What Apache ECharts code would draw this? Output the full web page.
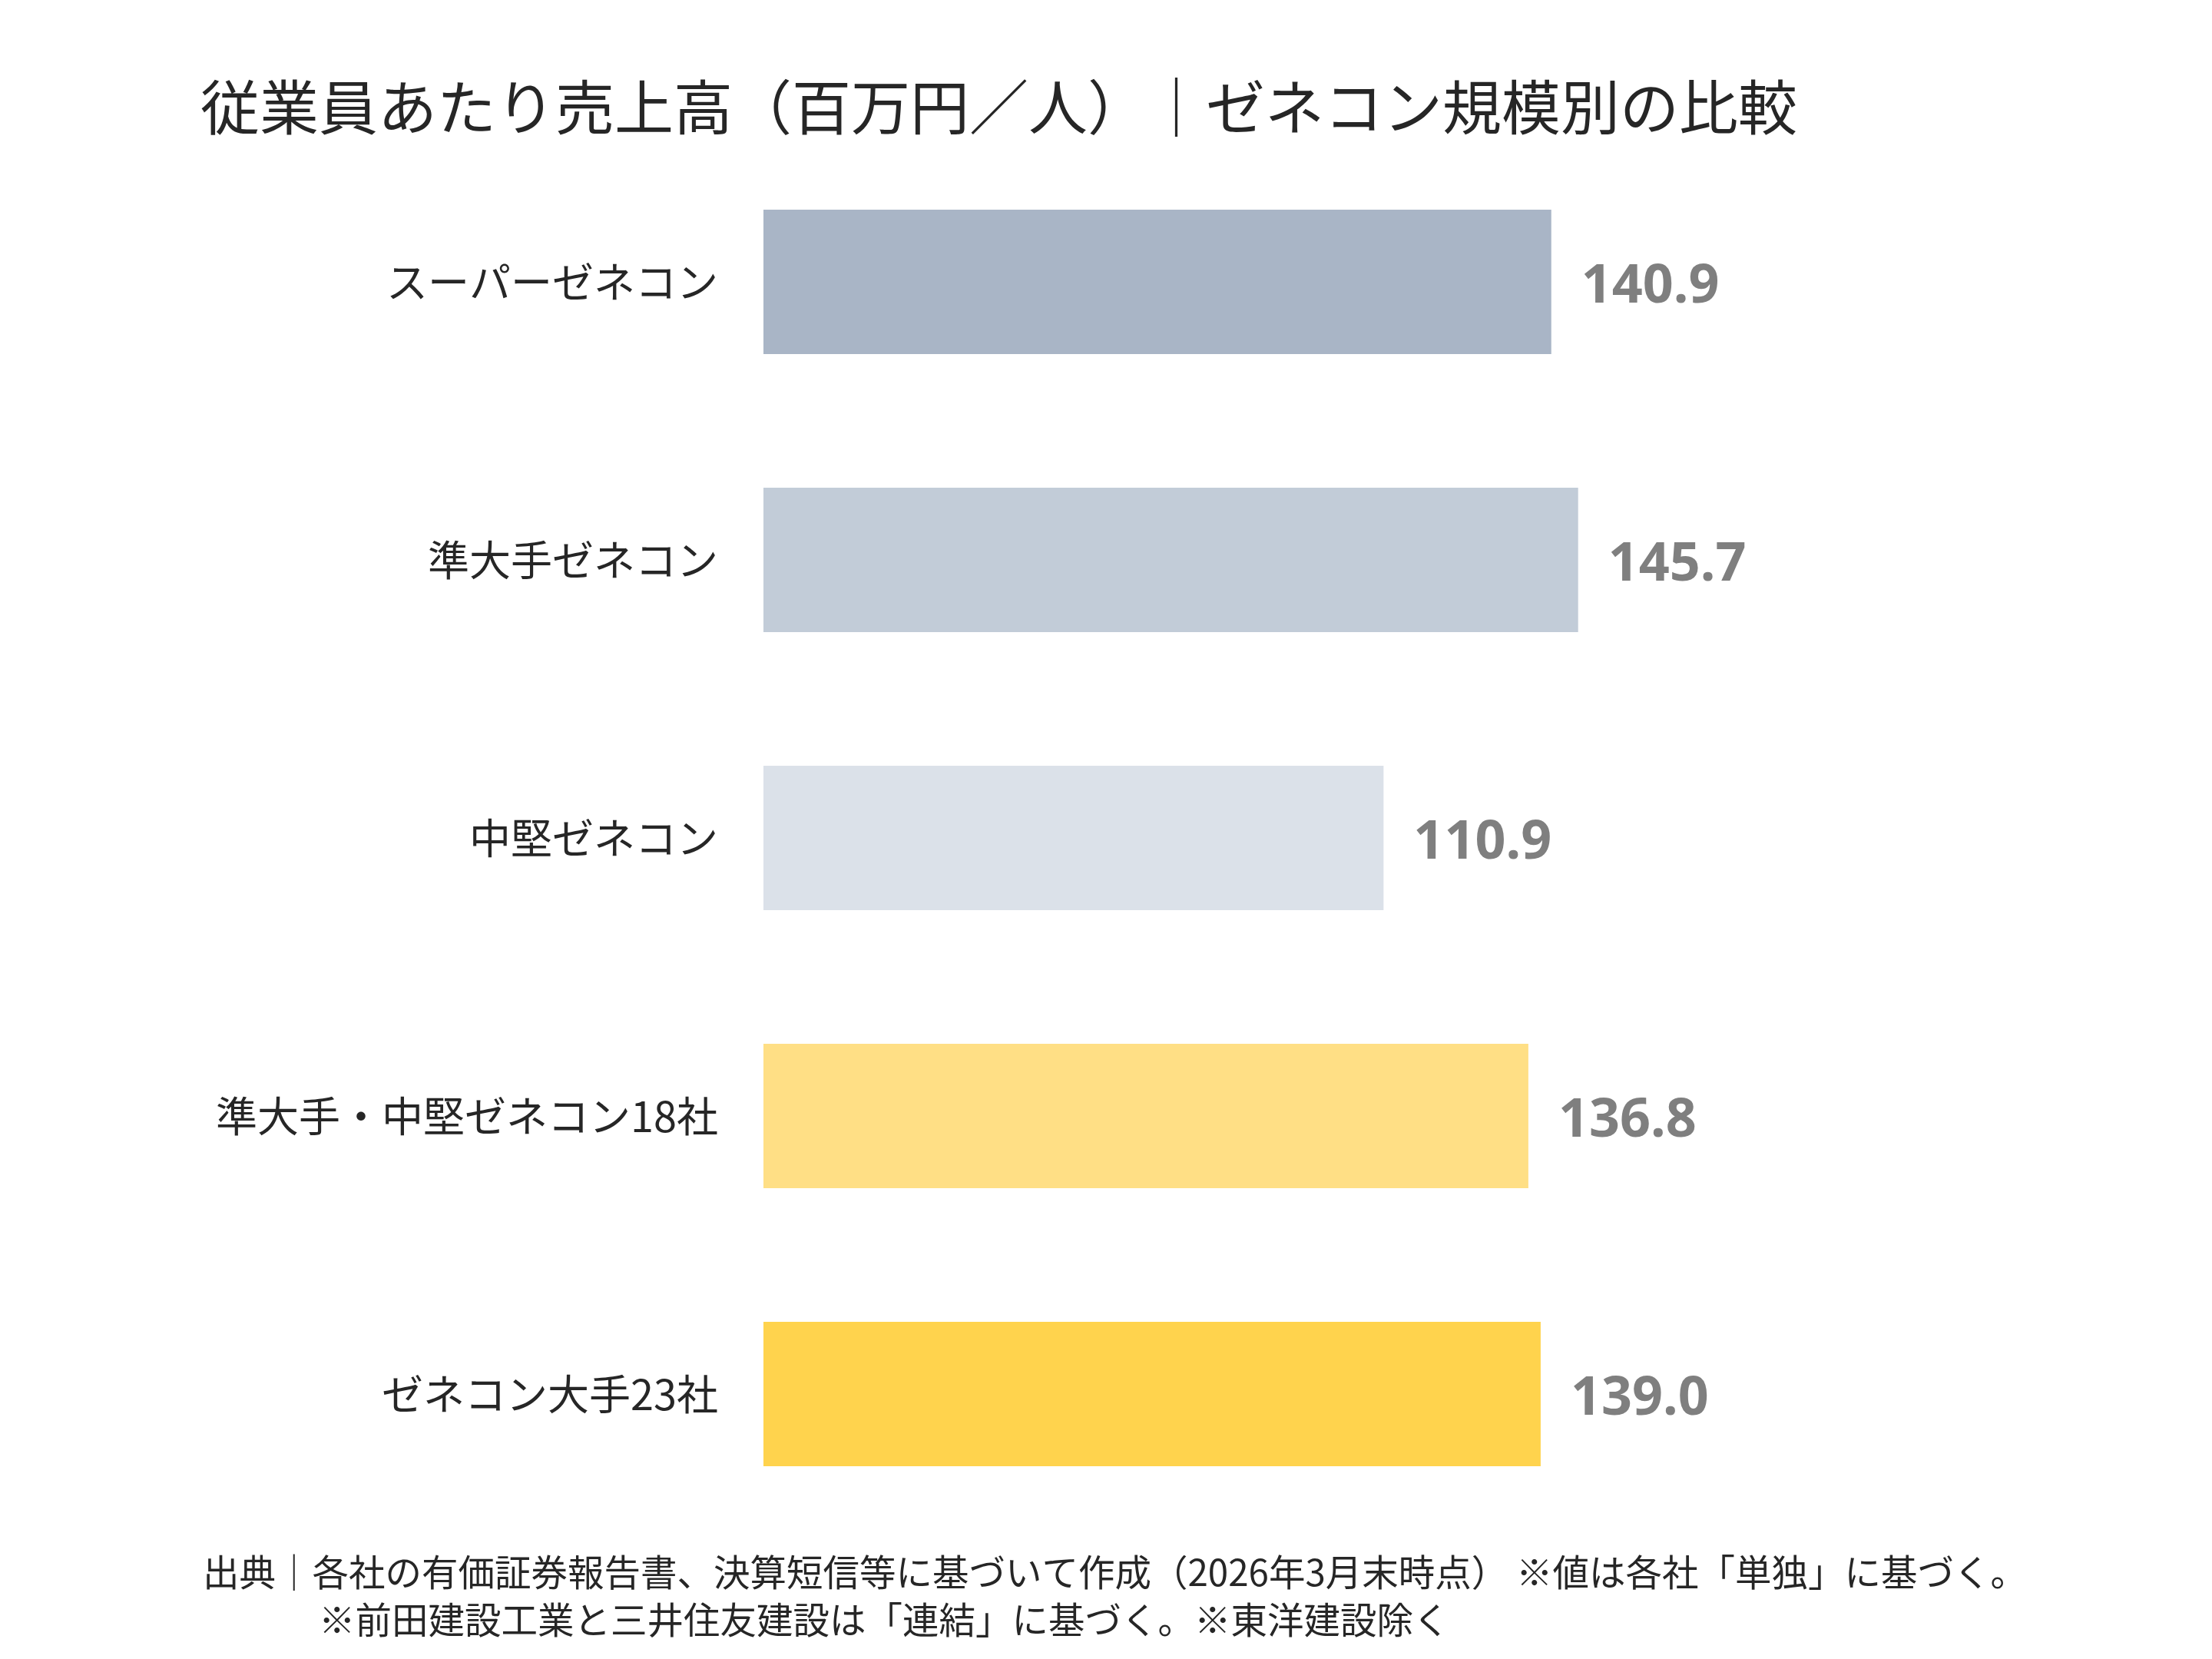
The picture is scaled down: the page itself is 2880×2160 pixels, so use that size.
<!DOCTYPE html>
<html>
<head>
<meta charset="utf-8">
<script src="https://cdn.jsdelivr.net/npm/echarts@6/dist/echarts.min.js"></script>
<style>
  html, body { margin: 0; padding: 0; background: #fff; }
  #chart { width: 2880px; height: 2160px; }
</style>
</head>
<body>
<div id="chart"></div>
<script>
var categories = ["スーパーゼネコン", "準大手ゼネコン", "中堅ゼネコン", "準大手・中堅ゼネコン18社", "ゼネコン大手23社"];
var values = [140.9, 145.7, 110.9, 136.8, 139.0];
var barColors = ["#a9b5c6", "#c2ccd8", "#dbe1e9", "#ffdf85", "#ffd34d"];
var titleText = "従業員あたり売上高（百万円／人）｜ゼネコン規模別の比較";
var noteLine1 = "出典｜各社の有価証券報告書、決算短信等に基づいて作成（2026年3月末時点） ※値は各社「単独」に基づく。";
var noteLine2 = "※前田建設工業と三井住友建設は「連結」に基づく。※東洋建設除く";

var jp = '"Noto Sans CJK JP", "Noto Sans", sans-serif';
var chart = echarts.init(document.getElementById("chart"));

var barData = [];
values.forEach(function (v, i) {
  barData.push({ value: v, itemStyle: { color: barColors[i] } });
});

var option = {
  backgroundColor: "#ffffff",
  animation: false,
  title: {
    text: titleText,
    left: 256,
    top: 95,
    textStyle: {
      fontFamily: jp,
      fontSize: 77,
      fontWeight: "normal",
      color: "#262626",
      lineHeight: 80
    }
  },
  grid: {
    left: 994,
    top: 186,
    width: 1456,
    height: 1810
  },
  xAxis: {
    type: "value",
    min: 0,
    max: 200,
    show: false
  },
  yAxis: {
    type: "category",
    inverse: true,
    data: categories,
    axisLine: { show: false },
    axisTick: { show: false },
    splitLine: { show: false },
    axisLabel: {
      margin: 59,
      fontFamily: jp,
      fontSize: 54,
      color: "#262626"
    }
  },
  series: [
    {
      type: "bar",
      data: barData,
      barWidth: 188,
      label: {
        show: true,
        position: "right",
        distance: 39,
        offset: [0, 7],
        fontFamily: '"Noto Sans", sans-serif',
        fontWeight: "bold",
        fontSize: 70,
        color: "#7f7f7f",
        formatter: function (p) {
          return p.value.toFixed(1);
        }
      }
    }
  ],
  graphic: [
    {
      type: "text",
      left: 264,
      top: 2023,
      style: {
        text: noteLine1,
        font: "47.5px " + jp,
        fill: "#262626"
      }
    },
    {
      type: "text",
      left: 415,
      top: 2085,
      style: {
        text: noteLine2,
        font: "47.5px " + jp,
        fill: "#262626"
      }
    }
  ]
};

chart.setOption(option);
window.addEventListener("resize", chart.resize);
</script>
</body>
</html>
